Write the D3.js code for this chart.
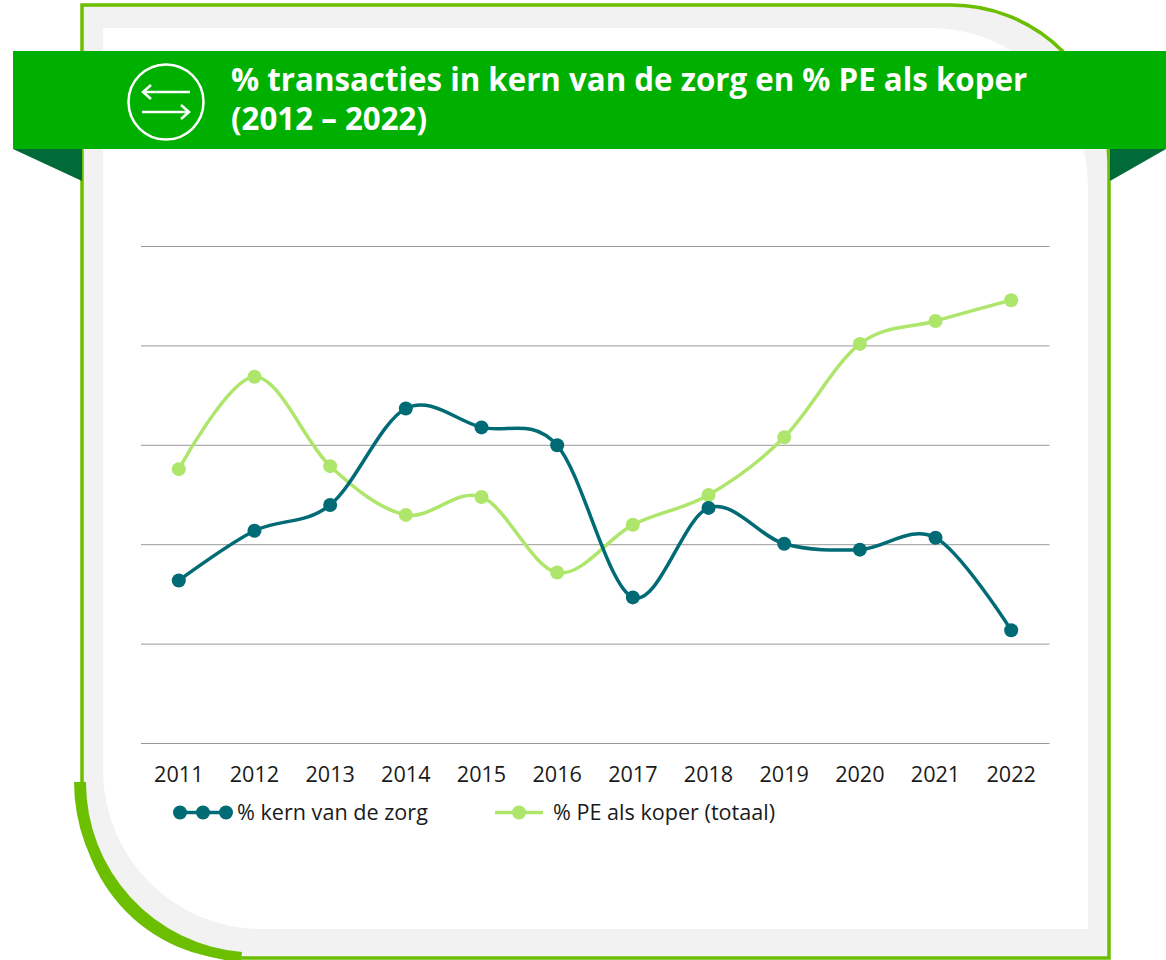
<!DOCTYPE html>
<html>
<head>
<meta charset="utf-8">
<script src="https://cdn.jsdelivr.net/npm/d3@7"></script>
<style>
html,body { margin:0; padding:0; background:#fff; }
svg { display:block; font-family:"Open Sans",sans-serif; }
</style>
</head>
<body>
<svg id="chart" width="1166" height="960"></svg>
<script>
const years=['2011','2012','2013','2014','2015','2016','2017','2018','2019','2020','2021','2022'];
const kernValues=[16.4,21.4,24,33.7,31.8,30,14.7,23.7,20.1,19.5,20.7,11.4];
const peValues=[27.6,36.9,27.9,23,24.8,17.2,22,25,30.8,40.2,42.5,44.6];
const gridTicks=[0,10,20,30,40,50];
const titleLines=['% transacties in kern van de zorg en % PE als koper','(2012 – 2022)'];
const legendLabels=['% kern van de zorg','% PE als koper (totaal)'];

const GREEN='#6cbf00', BANNER='#00b000', FOLD='#006b38', GREY='#f2f2f2';
const KERN='#006b75', PE='#aee66b', GRID='#999999';

const svg=d3.select('#chart');

// frame: outer green border, grey band, white panel
svg.append('path')
   .attr('d','M82,5 H950 A158,158 0 0 1 1109,163 V958 H240 A160,160 0 0 1 82,782 Z')
   .attr('fill',GREY).attr('stroke',GREEN).attr('stroke-width',3.5);
svg.append('path')
   .attr('d','M103,28 H930 A158,158 0 0 1 1088,186 V929 H262 A159,159 0 0 1 103,770 Z')
   .attr('fill','#fff');
// thick corner bottom left
svg.append('path')
   .attr('d','M74,782 L86,782 A170,170 0 0 0 242,952 L241,960 L225,960 A181,181 0 0 1 74,782 Z')
   .attr('fill',GREEN);

// ribbon
svg.append('polygon').attr('points','13,149 82,149 82,181').attr('fill',FOLD);
svg.append('polygon').attr('points','1110,149 1166,149 1110,181').attr('fill',FOLD);
svg.append('rect').attr('x',13).attr('y',51).attr('width',1153).attr('height',98).attr('fill',BANNER);

// icon
let icon=svg.append('g').attr('fill','none').attr('stroke','#fff').attr('stroke-width',2.5);
icon.append('circle').attr('cx',166).attr('cy',102).attr('r',37.5);
icon.append('path').attr('d','M190,92 H143 M151,85 L143,92 L151,99');
icon.append('path').attr('d','M142,112 H189 M181,105 L189,112 L181,119');

svg.append('g').selectAll('text').data(titleLines).join('text')
   .attr('x',231).attr('y',(d,i)=>91+i*39)
   .attr('fill','#fff').attr('font-size',31.25).attr('font-weight',700)
   .text(d=>d);

// chart
const x=d3.scalePoint().domain(years).range([178.8,1011.2]);
const y=d3.scaleLinear().domain([0,50]).range([743.5,246.5]);

svg.append('g').selectAll('line').data(gridTicks).join('line')
   .attr('x1',141).attr('x2',1049.5)
   .attr('y1',d=>y(d)).attr('y2',d=>y(d))
   .attr('stroke',GRID).attr('stroke-width',1);

svg.append('g').selectAll('text').data(years).join('text')
   .attr('x',d=>x(d)).attr('y',782)
   .attr('text-anchor','middle').attr('font-size',21.6).attr('fill','#1a1a1a')
   .text(d=>d);

const line=d3.line().x((d,i)=>x(years[i])).y(d=>y(d)).curve(d3.curveCatmullRom.alpha(0));

function drawSeries(values,color,r) {
   let g=svg.append('g');
   g.append('path').attr('d',line(values)).attr('fill','none')
    .attr('stroke',color).attr('stroke-width',3.5);
   g.selectAll('circle').data(values).join('circle')
    .attr('cx',(d,i)=>x(years[i])).attr('cy',d=>y(d)).attr('r',r).attr('fill',color);
}
drawSeries(peValues,PE,7);
drawSeries(kernValues,KERN,7);

// legend
let lg=svg.append('g');
lg.append('line').attr('x1',179).attr('x2',226).attr('y1',812.5).attr('y2',812.5).attr('stroke',KERN).attr('stroke-width',3.5);
lg.selectAll('circle.k').data([180,203,226]).join('circle').attr('class','k')
  .attr('cx',d=>d).attr('cy',812.5).attr('r',7).attr('fill',KERN);
lg.append('text').attr('x',237).attr('y',820).attr('font-size',21.6).attr('fill','#1a1a1a').text(legendLabels[0]);
lg.append('line').attr('x1',495).attr('x2',543).attr('y1',812.5).attr('y2',812.5).attr('stroke',PE).attr('stroke-width',3.5);
lg.append('circle').attr('cx',519).attr('cy',812.5).attr('r',7).attr('fill',PE);
lg.append('text').attr('x',553).attr('y',820).attr('font-size',21.6).attr('fill','#1a1a1a').text(legendLabels[1]);
</script>
</body>
</html>
